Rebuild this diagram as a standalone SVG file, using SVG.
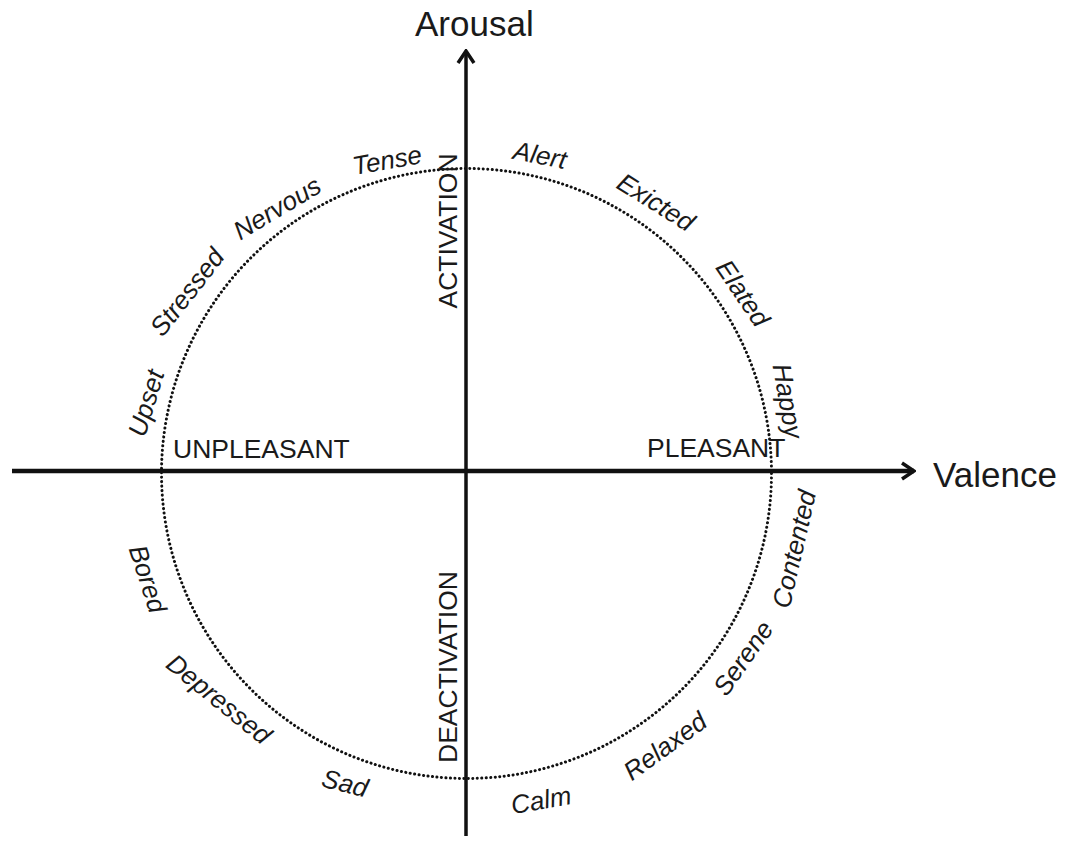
<svg xmlns="http://www.w3.org/2000/svg" width="1068" height="841" viewBox="0 0 1068 841">
<defs>
<marker id="arr" viewBox="0 0 16 20" refX="14" refY="10" markerWidth="16" markerHeight="20" markerUnits="userSpaceOnUse" orient="auto">
<path d="M2,2 L14,10 L2,18" fill="none" stroke="#111" stroke-width="3.5" stroke-linecap="butt" stroke-linejoin="miter"/>
</marker>
<style>
.axis{stroke:#111;fill:none}
.circ{stroke:#111;fill:none;stroke-width:3;stroke-dasharray:0.1 4.4;stroke-linecap:round}
.emo{font-family:"Liberation Sans",Arial,sans-serif;font-style:italic;font-size:26px;fill:#1a1a1a;text-anchor:middle}
.cap{font-family:"Liberation Sans",Arial,sans-serif;font-size:26.5px;fill:#1a1a1a}
.ax{font-family:"Liberation Sans",Arial,sans-serif;font-size:35px;fill:#1a1a1a}
</style>
</defs>
<rect width="1068" height="841" fill="#fff"/>
<g id="connectors">
<circle class="circ" cx="466.5" cy="473.5" r="305"/>
<line class="axis" x1="12" y1="471" x2="914" y2="471" stroke-width="4.5" marker-end="url(#arr)"/>
<line class="axis" x1="466" y1="836" x2="466" y2="51" stroke-width="3.5" marker-end="url(#arr)"/>
</g>
<g id="axis-labels">
<text id="arousal" class="ax" x="415" y="36" font-size="34">Arousal</text>
<text id="valence" class="ax" x="933" y="487">Valence</text>
<text id="unpleasant" class="cap" x="173" y="458">UNPLEASANT</text>
<text id="pleasant" class="cap" x="647" y="457">PLEASANT</text>
<text id="activation" class="cap" text-anchor="middle" transform="translate(457,231) rotate(-90)">ACTIVATION</text>
<text id="deactivation" class="cap" text-anchor="middle" transform="translate(457,667) rotate(-90)">DEACTIVATION</text>
</g>
<g id="emotions">
<g id="tense"><text class="emo" dy="0.35em" transform="translate(387,160) rotate(-10)">Tense</text></g>
<g id="nervous"><text class="emo" dy="0.35em" transform="translate(277,208) rotate(-31)">Nervous</text></g>
<g id="stressed"><text class="emo" dy="0.35em" transform="translate(187,292) rotate(-52)">Stressed</text></g>
<g id="upset"><text class="emo" dy="0.35em" transform="translate(146,403) rotate(-73)">Upset</text></g>
<g id="alert"><text class="emo" dy="0.35em" transform="translate(540,155) rotate(11)">Alert</text></g>
<g id="exicted"><text class="emo" dy="0.35em" transform="translate(656,202) rotate(32)">Exicted</text></g>
<g id="elated"><text class="emo" dy="0.35em" transform="translate(743,293) rotate(56)">Elated</text></g>
<g id="happy"><text class="emo" dy="0.35em" transform="translate(788,401) rotate(80)">Happy</text></g>
<g id="contented"><text class="emo" dy="0.35em" transform="translate(794,549) rotate(-77)">Contented</text></g>
<g id="serene"><text class="emo" dy="0.35em" transform="translate(743,658) rotate(-55)">Serene</text></g>
<g id="relaxed"><text class="emo" dy="0.35em" transform="translate(665,746) rotate(-36)">Relaxed</text></g>
<g id="calm"><text class="emo" dy="0.35em" transform="translate(541,800) rotate(-10)">Calm</text></g>
<g id="sad"><text class="emo" dy="0.35em" transform="translate(345,783) rotate(14)">Sad</text></g>
<g id="depressed"><text class="emo" dy="0.35em" transform="translate(219,699) rotate(39)">Depressed</text></g>
<g id="bored"><text class="emo" dy="0.35em" transform="translate(148,579) rotate(72)">Bored</text></g>
</g>
</svg>
